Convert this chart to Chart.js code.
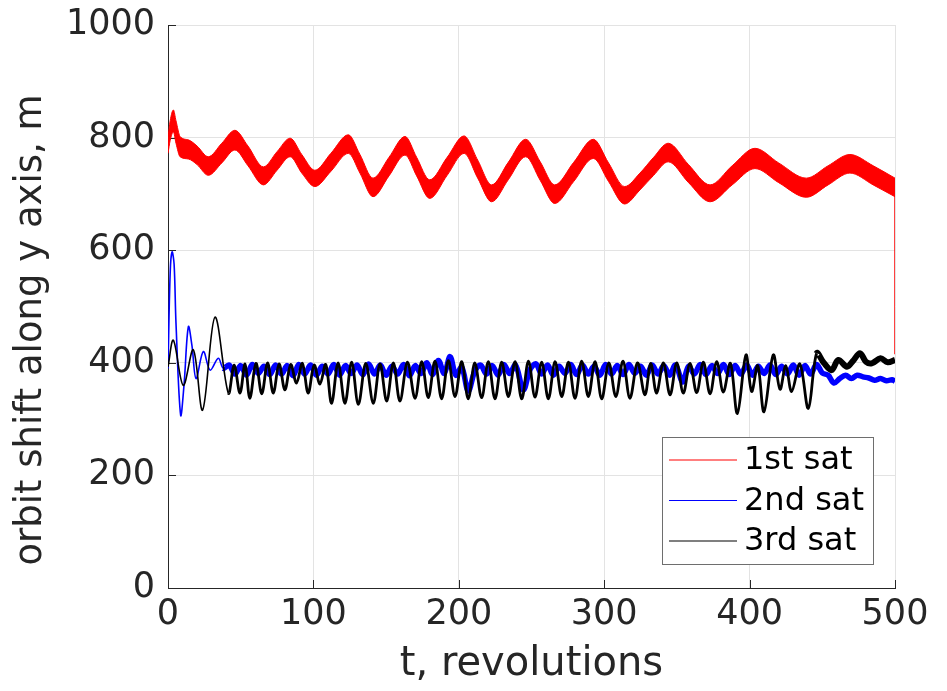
<!DOCTYPE html>
<html>
<head>
<meta charset="utf-8">
<script src="https://cdn.jsdelivr.net/npm/chart.js@4.4.0/dist/chart.umd.min.js"></script>
<style>
  html, body { margin: 0; padding: 0; background: #fff; }
  #wrap { width: 947px; height: 691px; }
</style>
</head>
<body>
<div id="wrap"><canvas id="orbit" width="947" height="691"></canvas></div>
<script>
// axis ticks
const tTicks = [0, 100, 200, 300, 400, 500];
const yTicks = [0, 200, 400, 600, 800, 1000];

// 1st sat: the fast oscillation fills a band, kept as [t, upper, lower]
const sat1Band = [
  [0, 800, 772], [1.5, 830, 795], [3.7, 849, 810], [5.5, 830, 790], [8.3, 802, 766],
  [14, 796, 762], [20, 785, 752], [27.7, 766, 733], [37, 790, 755], [46, 813, 778],
  [55, 785, 750], [65.6, 748, 716], [75, 775, 742], [84, 799, 766], [92, 770, 737],
  [101, 742, 713], [112, 772, 740], [124, 805, 772], [132, 770, 737], [141, 728, 695],
  [152, 765, 732], [163, 802, 769], [171, 765, 732], [180, 725, 692], [192, 765, 733],
  [203.6, 803, 772], [213, 760, 728], [222.6, 716, 686], [234, 756, 725], [246, 797, 766],
  [256, 757, 724], [266, 716, 683], [279, 756, 722], [292.5, 797, 763], [303, 755, 722],
  [314, 713, 682], [324.6, 737, 707], [334, 765, 733], [344, 790, 757], [358, 752, 720],
  [372.8, 716, 686], [388, 750, 716], [403.7, 781, 745], [420, 755, 720], [439, 728, 694],
  [454, 750, 716], [469, 770, 737], [485, 750, 716], [500, 728, 695]
];
// last sample of the 1st sat drops at t = 500
const sat1Tail = [[500, 712], [500, 415]];

// 2nd sat [t, m]
const sat2 = [
  [0, 390], [1.5, 560], [2.8, 597], [4.2, 575], [5.5, 470], [8.7, 307], [11, 360], [14, 464],
  [16.5, 430], [19.3, 372], [24.3, 420], [29, 387], [34.6, 408], [38, 390],
  [42, 396], [46, 380], [50, 395], [54, 378], [58, 397], [62, 381], [66, 394], [70, 379],
  [74, 396], [78, 380], [82, 395], [86, 377], [90, 397], [94, 380], [98, 396], [102, 378],
  [106, 394], [110, 380], [114, 397], [118, 378], [122, 395], [126, 381], [130, 396], [134, 379],
  [138, 398], [142, 380], [146, 396], [150, 378], [154, 394], [158, 380], [162, 397], [166, 377],
  [170, 395], [174, 381], [178, 400], [182, 379], [186, 404], [190, 381], [194, 411], [198, 378],
  [202, 392], [206.5, 350], [211, 385], [215, 396], [219, 380], [223, 395], [227, 378], [231, 397],
  [235, 381], [239, 396], [244.4, 352], [249, 388], [253, 398], [257, 380], [261, 396], [265, 378],
  [269, 394], [273, 381], [277, 397], [281, 379], [285, 396], [289, 380], [293, 394], [297, 378],
  [301, 397], [305, 380], [309, 395], [313, 379], [317, 397], [321, 381], [325, 394], [329, 378],
  [333, 396], [337, 380], [341, 395], [345, 378], [349, 396], [354, 366], [358, 394], [362, 380],
  [366, 397], [370, 379], [374, 395], [378, 381], [382, 397], [386, 379], [390, 395], [394, 380],
  [398, 396], [402, 378], [406, 394], [410, 381], [414, 396], [418, 379], [422, 394], [426, 380],
  [430, 396], [434, 378], [438, 395], [442, 380], [446, 397], [450, 382], [454, 378], [458, 364],
  [462, 372], [466, 378], [470, 372], [474, 378], [478, 375], [482, 373], [486, 369], [490, 372],
  [494, 368], [498, 370], [500, 367]
];

// 3rd sat [t, m]
const sat3 = [
  [0, 393], [3.7, 440], [10.5, 360], [17.4, 423], [23.8, 316], [32.3, 481], [41.5, 346], [45.5, 396],
  [49.5, 346], [53, 398], [56.3, 337], [60.5, 399], [64.5, 345], [68.5, 400], [72.4, 346], [76.4, 398],
  [80.4, 352], [84.4, 397], [88.4, 364], [92.4, 399], [96.4, 346], [100.5, 396], [104.5, 362], [108.5, 397],
  [112.5, 328], [117, 400], [121.7, 328], [126.3, 401], [130.9, 326], [136, 399], [141.2, 328], [145.8, 398],
  [150.4, 332], [155, 400], [159.5, 332], [164.7, 401], [169.9, 337], [174.5, 402], [179, 338], [183.6, 403],
  [188.2, 336], [192.8, 404], [197.4, 340], [202, 402], [206.5, 336], [211, 400], [215.7, 338], [220.3, 402],
  [224.9, 336], [229.5, 401], [234.1, 340], [238.7, 402], [243.3, 336], [247.9, 403], [252.4, 339], [257, 401],
  [261.6, 336], [266.2, 402], [270.8, 340], [275.4, 401], [279.9, 337], [284.5, 403], [289.1, 340], [293.7, 402],
  [298.3, 336], [303.2, 400], [308, 340], [312.9, 403], [317.7, 337], [322.9, 400], [328, 343], [332, 399],
  [336, 346], [340.7, 400], [345.3, 343], [349.9, 400], [354.4, 346], [359, 399], [363.6, 347], [368.2, 401],
  [372.8, 345], [377.4, 402], [381.9, 348], [386.8, 399], [391.6, 310], [397.5, 414], [401.4, 349], [405.6, 395],
  [409.9, 313], [416.3, 414], [420.9, 353], [424.9, 395], [428.9, 349], [434.6, 398], [440.4, 319], [446.1, 417],
  [451, 400], [456.4, 387], [461, 405], [467, 393], [471, 403], [475.9, 417], [480, 402], [484, 399],
  [490, 408], [495, 401], [500, 405]
];

const INK = '#262626';
const FONT = 'DejaVu Sans';
const Y_TITLE = 'orbit shift along y axis, m';

const pts = (rows, k = 1) => rows.map(r => ({ x: r[0], y: r[k] }));

// inward tick marks on the left and bottom axes
const innerTicks = {
  id: 'innerTicks',
  beforeDatasetsDraw(chart) {
    const { ctx, chartArea: a, scales: { x, y } } = chart;
    ctx.save();
    ctx.strokeStyle = INK;
    ctx.lineWidth = 1;
    ctx.beginPath();
    tTicks.forEach(v => {
      const px = Math.round(x.getPixelForValue(v)) + 0.5;
      ctx.moveTo(px, a.bottom); ctx.lineTo(px, a.bottom - 8);
    });
    yTicks.forEach(v => {
      const py = Math.round(y.getPixelForValue(v)) + 0.5;
      ctx.moveTo(a.left, py); ctx.lineTo(a.left + 8, py);
    });
    ctx.stroke();
    ctx.restore();
  }
};

// y label sits a little below the axis middle
const yLabel = {
  id: 'yLabel',
  afterDraw(chart) {
    const { ctx } = chart;
    ctx.save();
    ctx.translate(31, 330);
    ctx.rotate(-Math.PI / 2);
    ctx.font = '37px "' + FONT + '"';
    ctx.fillStyle = INK;
    ctx.textAlign = 'center';
    ctx.textBaseline = 'middle';
    ctx.fillText(Y_TITLE, 0, 0);
    ctx.restore();
  }
};

// boxed legend in the lower right of the axes
const boxLegend = {
  id: 'boxLegend',
  afterDraw(chart) {
    const { ctx } = chart;
    const items = chart.data.datasets.filter(d => d.inLegend);
    const box = { x: 662.5, y: 437.5, w: 211, h: 127 };
    ctx.save();
    ctx.fillStyle = '#fff';
    ctx.fillRect(box.x, box.y, box.w, box.h);
    ctx.strokeStyle = '#6e6e6e';
    ctx.lineWidth = 1;
    ctx.strokeRect(box.x, box.y, box.w, box.h);
    ctx.font = '32px "' + FONT + '"';
    ctx.textBaseline = 'middle';
    ctx.textAlign = 'left';
    items.forEach((d, i) => {
      const cy = 460 + i * 40.5;
      ctx.strokeStyle = d.borderColor;
      ctx.lineWidth = 1.2;
      ctx.beginPath();
      ctx.moveTo(669, cy); ctx.lineTo(737, cy);
      ctx.stroke();
      ctx.fillStyle = '#000';
      ctx.fillText(d.label, 744, cy + 1);
    });
    ctx.restore();
  }
};

new Chart(document.getElementById('orbit'), {
  type: 'line',
  data: {
    datasets: [
      {
        label: '1st sat', inLegend: true, data: pts(sat1Band, 1), order: 3,
        borderColor: '#ff0000', backgroundColor: '#ff0000', borderWidth: 1,
        pointRadius: 0, fill: '+1', cubicInterpolationMode: 'monotone'
      },
      {
        label: '1st sat lower', data: pts(sat1Band, 2), order: 3,
        borderColor: '#ff0000', borderWidth: 1, pointRadius: 0, fill: false,
        cubicInterpolationMode: 'monotone'
      },
      {
        label: '2nd sat', inLegend: true, data: pts(sat2), order: 2,
        borderColor: '#0000ff', borderJoinStyle: 'round', pointRadius: 0, fill: false,
        tension: 0.35,
        segment: { borderWidth: c => (c.p0.parsed.x < 38 ? 1.6 : 5.5) }
      },
      {
        label: '3rd sat', inLegend: true, data: pts(sat3), order: 1,
        borderColor: '#000000', borderJoinStyle: 'round', pointRadius: 0, fill: false,
        tension: 0.35,
        segment: { borderWidth: c => (c.p0.parsed.x < 38 ? 1.6 : c.p0.parsed.x >= 446 ? 6 : 2.8) }
      },
      {
        label: '1st sat end', data: pts(sat1Tail), order: 3,
        borderColor: '#ff0000', borderWidth: 1.5, pointRadius: 0, fill: false
      }
    ]
  },
  options: {
    responsive: false,
    animation: false,
    devicePixelRatio: 1,
    layout: { padding: { top: 25, right: 52, left: 0, bottom: 0 } },
    plugins: { legend: { display: false }, tooltip: { enabled: false } },
    scales: {
      x: {
        type: 'linear', min: 0, max: 500,
        grid: { color: '#e3e3e3', drawTicks: false },
        border: { display: true, color: INK },
        ticks: { stepSize: 100, padding: 6, color: INK, font: { family: FONT, size: 35 },
                 callback: v => String(v) },
        title: { display: true, text: 't, revolutions', color: INK,
                 font: { family: FONT, size: 40 }, padding: { top: 0, bottom: 2 } },
        afterFit: s => { s.height = 103; s.paddingLeft = 0; s.paddingRight = 0; }
      },
      y: {
        type: 'linear', min: 0, max: 1000,
        grid: { color: '#e3e3e3', drawTicks: false },
        border: { display: true, color: INK },
        ticks: { stepSize: 200, padding: 13, color: INK, font: { family: FONT, size: 35 },
                 callback: v => String(v) },
        title: { display: false },
        afterFit: s => { s.width = 168; s.paddingTop = 0; s.paddingBottom = 0; }
      }
    }
  },
  plugins: [innerTicks, yLabel, boxLegend]
});
</script>
</body>
</html>
